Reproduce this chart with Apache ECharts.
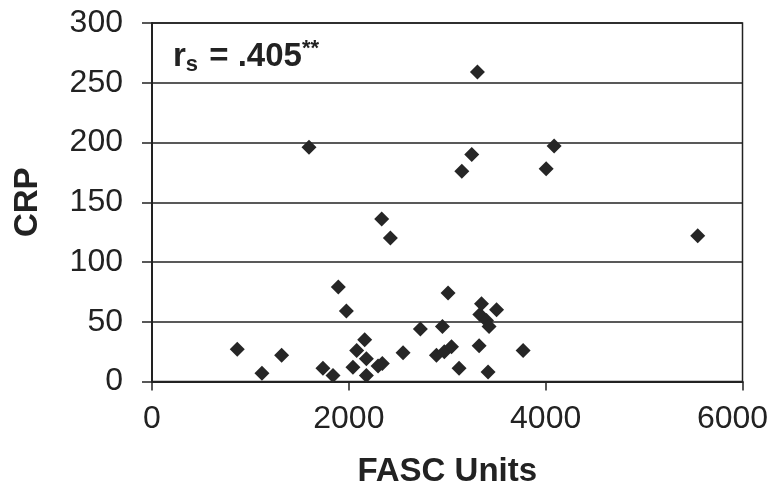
<!DOCTYPE html>
<html>
<head>
<meta charset="utf-8">
<script src="https://cdn.jsdelivr.net/npm/echarts@6/dist/echarts.min.js"></script>
<style>html,body{margin:0;padding:0;background:#fff}#c{width:773px;height:494px}</style>
</head>
<body>
<div id="c"></div>
<script>
const fascUnits = [866,1117,1317,1595,1737,1839,1893,1975,2042,2080,2161,2178,2178,2297,2340,2334,2422,2551,2727,2890,2951,2970,3008,3043,3120,3148,3249,3307,3324,3331,3348,3399,3425,3415,3501,3771,4005,4086,5545];
const crpValues  = [27,7,22,196,11,5,79,59,12,26,35,19,5,13,15,136,120,24,44,22,46,25,74,29,11,176,190,259,30,56,65,51,46,8,60,26,178,197,122];
const xTicks = [0,2000,4000,6000];
const yTicks = [0,50,100,150,200,250,300];
const annotation = 'r_s = .405**';

const points = fascUnits.map((x,i)=>[x,crpValues[i]]);
const chart = echarts.init(document.getElementById('c'));
const font = 'Liberation Sans, Arial, sans-serif';
const xMax = xTicks[xTicks.length-1];
chart.setOption({
  animation:false,
  backgroundColor:'#fff',
  grid:{left:152,right:30.5,top:23,bottom:112.5,containLabel:false,outerBoundsMode:'none',
    show:true,borderColor:'#222',borderWidth:1.5,backgroundColor:'transparent'},
  xAxis:{type:'value',min:xTicks[0],max:xMax,interval:2000,
    name:'FASC Units',nameLocation:'middle',nameGap:74,
    nameTextStyle:{fontFamily:font,fontSize:33,fontWeight:'bold',color:'#222'},
    axisLine:{show:true,onZero:false,lineStyle:{color:'#222',width:2}},
    axisTick:{show:true,length:9,lineStyle:{color:'#222',width:1.5}},
    axisLabel:{fontFamily:font,fontSize:32,color:'#222',margin:22,
      formatter:v=>v===xMax?'{last|'+v+'}':'{n|'+v+'}',
      rich:{n:{fontFamily:font,fontSize:32,color:'#222'},
            last:{fontFamily:font,fontSize:32,color:'#222',padding:[0,20,0,0]}}},
    splitLine:{show:false}},
  yAxis:{type:'value',min:yTicks[0],max:yTicks[yTicks.length-1],interval:50,
    name:'CRP',nameLocation:'middle',nameGap:108,nameRotate:90,
    nameTextStyle:{fontFamily:font,fontSize:33,fontWeight:'bold',color:'#222'},
    axisLine:{show:true,lineStyle:{color:'#222',width:2}},
    axisTick:{show:true,length:10,lineStyle:{color:'#222',width:1.5}},
    axisLabel:{fontFamily:font,fontSize:32,color:'#222',margin:29},
    splitLine:{show:true,lineStyle:{color:'#222',width:1.5}}},
  series:[{type:'scatter',data:points,symbol:'diamond',symbolSize:[15,15],
    itemStyle:{color:'#262626',opacity:1}}],
  graphic:[{type:'text',left:173,top:38,
    style:{text:'{r|r}{s|s}{r| = .405}{st|**}',
      rich:{r:{fontFamily:font,fontSize:33,fontWeight:'bold',fill:'#222'},
            s:{fontFamily:font,fontSize:22,fontWeight:'bold',fill:'#222',verticalAlign:'bottom',padding:[16,2,0,0]},
            st:{fontFamily:font,fontSize:22,fontWeight:'bold',fill:'#222',verticalAlign:'top',padding:[0,0,12,0]}}}}]
});
</script>
</body>
</html>
